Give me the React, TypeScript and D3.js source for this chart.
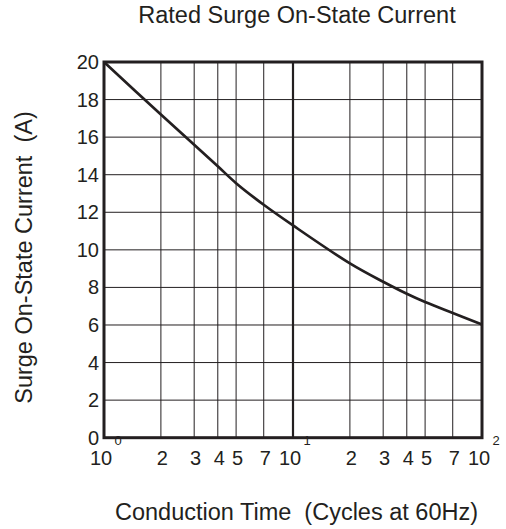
import React from "react";
import * as d3 from "d3";

const cycles = [1, 2, 3, 4, 5, 7, 10, 20, 30, 40, 50, 70, 100];
const current = [20, 17.2, 15.6, 14.45, 13.55, 12.4, 11.3, 9.28, 8.3, 7.66, 7.22, 6.64, 6.03];

const xGridValues = [2, 3, 4, 5, 7, 10, 20, 30, 40, 50, 70];
const yGridValues = [2, 4, 6, 8, 10, 12, 14, 16, 18];
const yTickValues = [0, 2, 4, 6, 8, 10, 12, 14, 16, 18, 20];
const xMinorLabels = [
  { v: 2, t: "2" }, { v: 3, t: "3" }, { v: 4, t: "4" }, { v: 5, t: "5" }, { v: 7, t: "7" },
  { v: 20, t: "2" }, { v: 30, t: "3" }, { v: 40, t: "4" }, { v: 50, t: "5" }, { v: 70, t: "7" },
];
const xDecadeLabels = [
  { v: 1, exp: "0" }, { v: 10, exp: "1" }, { v: 100, exp: "2" },
];

const title = "Rated Surge On-State Current";
const xTitle = "Conduction Time  (Cycles at 60Hz)";
const yTitle = "Surge On-State Current  (A)";

const W = 506;
const H = 529;
const ink = "#231f20";
const font = "'Liberation Sans', Arial, Helvetica, sans-serif";

export default function App() {
  const x = d3.scaleLog().domain([1, 100]).range([104, 482]);
  const y = d3.scaleLinear().domain([0, 20]).range([437.7, 62]);
  const line = d3
    .line<number>()
    .x((_, i) => x(cycles[i]))
    .y((d) => y(d))
    .curve(d3.curveCatmullRom.alpha(0.5));

  const [x0, x1] = x.range();
  const [y0, y1] = y.range();

  return (
    <svg
      width={W}
      height={H}
      style={{ position: "absolute", left: 0, top: 0, background: "#fff" }}
      fontFamily={font}
    >
      <rect x={0} y={0} width={W} height={H} fill="#fff" />
      {/* grid */}
      {yGridValues.map((v) => (
        <line key={"gy" + v} x1={x0} x2={x1} y1={y(v)} y2={y(v)} stroke={ink} strokeWidth={1} />
      ))}
      {xGridValues.map((v) => (
        <line
          key={"gx" + v}
          x1={x(v)}
          x2={x(v)}
          y1={y1}
          y2={y0}
          stroke={ink}
          strokeWidth={v === 10 ? 2.2 : 1}
        />
      ))}
      {/* frame */}
      <rect
        x={x0}
        y={y1}
        width={x1 - x0}
        height={y0 - y1}
        fill="none"
        stroke={ink}
        strokeWidth={3}
      />
      {/* curve */}
      <path d={line(current) || ""} fill="none" stroke={ink} strokeWidth={2.7} />
      {/* y ticks */}
      {yTickValues.map((v) => (
        <text
          key={"ty" + v}
          x={99}
          y={y(v)}
          dy="0.35em"
          textAnchor="end"
          fontSize={20}
          fill={ink}
        >
          {v}
        </text>
      ))}
      {/* x ticks */}
      {xMinorLabels.map((d, i) => (
        <text
          key={"tx" + i}
          x={x(d.v) + 1.5}
          y={465}
          textAnchor="middle"
          fontSize={20}
          fill={ink}
        >
          {d.t}
        </text>
      ))}
      {xDecadeLabels.map((d) => (
        <g key={"td" + d.v}>
          <text x={x(d.v) - 3} y={465} textAnchor="middle" fontSize={20} fill={ink}>
            10
          </text>
          <text x={x(d.v) + 14} y={445} textAnchor="middle" fontSize={13} fill={ink}>
            {d.exp}
          </text>
        </g>
      ))}
      {/* titles */}
      <text x={297} y={23} textAnchor="middle" fontSize={23.5} fill={ink}>
        {title}
      </text>
      <text x={296.5} y={520} textAnchor="middle" fontSize={23.5} fill={ink} style={{ whiteSpace: "pre" }}>
        {xTitle}
      </text>
      <text
        transform={`translate(32, 257.5) rotate(-90)`}
        textAnchor="middle"
        fontSize={23.5}
        fill={ink}
        style={{ whiteSpace: "pre" }}
      >
        {yTitle}
      </text>
    </svg>
  );
}
